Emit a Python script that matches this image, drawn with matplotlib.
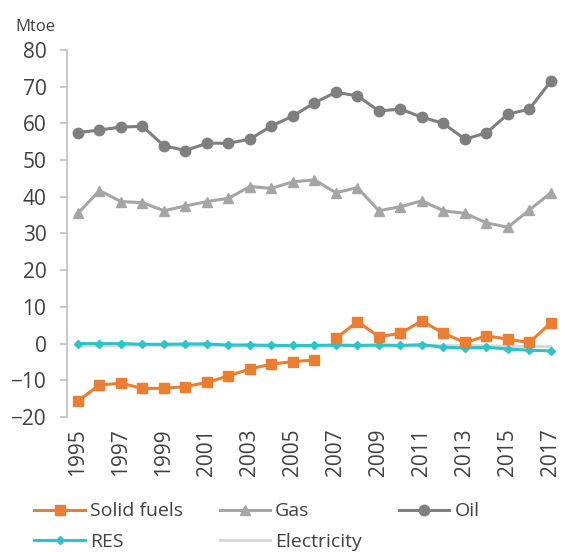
import matplotlib.pyplot as plt
import numpy as np

# Datos
years = list(range(1995, 2018))
solid_fuels = [-15.6, -11.3, -10.8, -12.2, -12.2, -11.7, -10.6, -8.8, -6.9, -5.6, -4.9, -4.5,
               1.4, 6.0, 1.9, 2.8, 6.2, 2.8, 0.3, 2.1, 1.2, 0.3, 5.7]
gas = [35.5, 41.7, 38.7, 38.4, 36.2, 37.5, 38.7, 39.6, 42.8, 42.3, 44.1, 44.6,
       41.1, 42.5, 36.2, 37.3, 38.9, 36.2, 35.5, 32.9, 31.7, 36.4, 41.1]
oil = [57.5, 58.2, 59.0, 59.2, 53.9, 52.6, 54.6, 54.6, 55.7, 59.3, 62.0, 65.6,
       68.5, 67.5, 63.4, 63.9, 61.7, 60.0, 55.7, 57.4, 62.5, 63.9, 71.5]
res = [0.0, 0.0, 0.0, -0.2, -0.2, -0.1, -0.1, -0.4, -0.4, -0.5, -0.5, -0.5,
       -0.4, -0.5, -0.4, -0.5, -0.3, -1.0, -1.2, -1.0, -1.5, -1.8, -2.0]
electricity = [-0.5, -0.6, -0.5, -0.4, -0.5, -0.6, -0.6, -0.5, -0.4, -0.5, -0.6, -0.7,
               -0.6, -0.5, -0.6, -0.6, -0.5, -0.5, -0.6, -0.6, -0.7, -0.8, -0.8]
yticks = list(range(-20, 81, 10))
xtick_years = years[::2]

plt.rcParams['font.family'] = ['Open Sans', 'DejaVu Sans']

fig = plt.figure(figsize=(5.65, 5.52), dpi=100)
ax = fig.add_axes([0.119, 0.2446, 0.875, 0.6648])

lw = 2.2
ax.plot(years, electricity, color='#d9d9d9', lw=lw, label='Electricity', zorder=2)
ax.plot(years, gas, color='#a5a5a5', lw=lw, marker='^', ms=7, label='Gas', zorder=3)
ax.plot(years, oil, color='#7f7f7f', lw=lw, marker='o', ms=7.5, label='Oil', zorder=3)
ax.plot(years, res, color='#2cc3c9', lw=lw, marker='D', ms=4.5, label='RES', zorder=4)
# hueco entre 2006 y 2007
ax.plot(years[:12], solid_fuels[:12], color='#ed7d31', lw=lw, marker='s', ms=7,
        label='Solid fuels', zorder=5)
ax.plot(years[12:], solid_fuels[12:], color='#ed7d31', lw=lw, marker='s', ms=7, zorder=5)

ax.set_xlim(1994.5, 2017.5)
ax.set_ylim(-20, 80)
ax.set_yticks(yticks)
ax.set_xticks(xtick_years)
ax.set_xticklabels([str(y) for y in xtick_years], rotation=90, fontsize=15, color='#404040')
ax.tick_params(axis='y', labelsize=15, colors='#404040', length=5, color='#bfbfbf',
               width=1.2, pad=10)
ax.tick_params(axis='x', length=0, pad=8)
for s in ['top', 'right', 'bottom']:
    ax.spines[s].set_visible(False)
ax.spines['left'].set_color('#bfbfbf')
ax.spines['left'].set_linewidth(1.2)

fig.text(0.027, 0.943, 'Mtoe', fontsize=12, color='#404040')

h, l = ax.get_legend_handles_labels()
d = dict(zip(l, h))
order = ['Solid fuels', 'RES', 'Gas', 'Electricity', 'Oil']
fig.legend([d[k] for k in order], order, ncol=3, loc='lower left',
           bbox_to_anchor=(0.03, -0.03), frameon=False, fontsize=14,
           handlelength=2.6, handletextpad=0.25, columnspacing=1.9,
           labelspacing=0.65, labelcolor='#404040')

fig.savefig('out.png', dpi=100)
